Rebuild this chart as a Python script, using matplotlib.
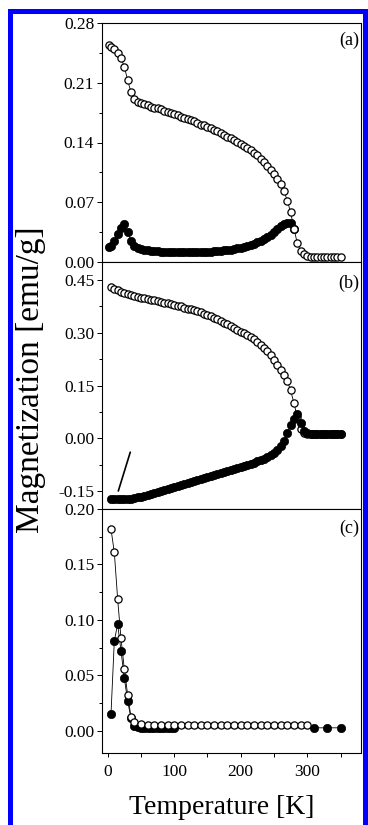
import matplotlib
matplotlib.use('Agg')
import matplotlib.pyplot as plt
from matplotlib.ticker import MultipleLocator, FormatStrFormatter
from matplotlib.patches import Rectangle

plt.rcParams['font.family'] = 'Liberation Serif'
plt.rcParams['axes.unicode_minus'] = False

# panel (a): open = FC, filled = ZFC
temp_a_open = [2, 5, 10, 15, 20, 25, 30, 35, 40, 45, 50, 55, 60, 65, 70, 75, 80, 85, 90, 95,
               100, 105, 110, 115, 120, 125, 130, 135, 140, 145, 150, 155, 160, 165, 170, 175,
               180, 185, 190, 195, 200, 205, 210, 215, 220, 225, 230, 235, 240, 245, 250, 255,
               260, 265, 270, 275, 280, 285, 290, 295, 300, 305, 310, 315, 320, 325, 330, 335,
               340, 345, 350]
mag_a_open = [0.254, 0.252, 0.249, 0.245, 0.239, 0.229, 0.213, 0.199, 0.191, 0.188,
              0.186, 0.185, 0.184, 0.182, 0.181, 0.180, 0.179, 0.177, 0.176, 0.174,
              0.173, 0.172, 0.170, 0.169, 0.168, 0.166, 0.165, 0.163, 0.161, 0.160,
              0.158, 0.157, 0.155, 0.153, 0.151, 0.149, 0.147, 0.145, 0.143, 0.141,
              0.138, 0.136, 0.133, 0.131, 0.128, 0.125, 0.121, 0.117, 0.113, 0.108,
              0.103, 0.097, 0.091, 0.083, 0.072, 0.058, 0.039, 0.022, 0.013, 0.009,
              0.007, 0.006, 0.006, 0.006, 0.006, 0.006, 0.006, 0.006, 0.006, 0.006, 0.006]
temp_a_full = [2, 5, 10, 15, 20, 25, 30, 35, 40, 45, 50, 55, 60, 65, 70, 75, 80, 85, 90, 95,
               100, 105, 110, 115, 120, 125, 130, 135, 140, 145, 150, 155, 160, 165, 170, 175,
               180, 185, 190, 195, 200, 205, 210, 215, 220, 225, 230, 235, 240, 245, 250, 255,
               260, 265, 270, 275, 280]
mag_a_full = [0.017, 0.019, 0.025, 0.033, 0.040, 0.045, 0.035, 0.025, 0.019, 0.016,
              0.015, 0.014, 0.0135, 0.013, 0.013, 0.0125, 0.012, 0.012, 0.012, 0.0118,
              0.0117, 0.0116, 0.0116, 0.0115, 0.0115, 0.0115, 0.0115, 0.0116, 0.0117, 0.0118,
              0.012, 0.0122, 0.0125, 0.0128, 0.0132, 0.0136, 0.014, 0.0146, 0.0152, 0.016,
              0.0168, 0.0177, 0.0188, 0.020, 0.0215, 0.0232, 0.025, 0.0272, 0.0296, 0.032,
              0.035, 0.0385, 0.042, 0.0445, 0.046, 0.0455, 0.039]

# panel (b)
temp_b = [5, 10, 15, 20, 25, 30, 35, 40, 45, 50, 55, 60, 65, 70, 75, 80, 85, 90, 95, 100,
          105, 110, 115, 120, 125, 130, 135, 140, 145, 150, 155, 160, 165, 170, 175, 180,
          185, 190, 195, 200, 205, 210, 215, 220, 225, 230, 235, 240, 245, 250, 255, 260,
          265, 270, 275, 280, 285, 290, 295, 300, 305, 310, 315, 320, 325, 330, 335, 340,
          345, 350]
mag_b_open = [0.430, 0.424, 0.420, 0.416, 0.413, 0.410, 0.407, 0.404, 0.401, 0.399,
              0.397, 0.395, 0.393, 0.391, 0.389, 0.387, 0.385, 0.383, 0.381, 0.379,
              0.376, 0.374, 0.371, 0.368, 0.366, 0.363, 0.360, 0.357, 0.353, 0.350,
              0.346, 0.342, 0.338, 0.333, 0.328, 0.323, 0.318, 0.313, 0.308, 0.303,
              0.298, 0.293, 0.287, 0.281, 0.273, 0.265, 0.257, 0.248, 0.237, 0.223,
              0.208, 0.194, 0.180, 0.163, 0.136, 0.100, 0.060, 0.028, 0.016, 0.013,
              0.012, 0.012, 0.012, 0.012, 0.012, 0.012, 0.012, 0.012, 0.012, 0.012]
mag_b_full = [-0.171, -0.172, -0.172, -0.172, -0.172, -0.172, -0.171, -0.170, -0.167, -0.165,
              -0.162, -0.159, -0.157, -0.154, -0.151, -0.148, -0.146, -0.143, -0.140, -0.138,
              -0.135, -0.132, -0.129, -0.127, -0.124, -0.121, -0.118, -0.115, -0.112, -0.109,
              -0.106, -0.104, -0.101, -0.098, -0.096, -0.093, -0.090, -0.087, -0.084, -0.081,
              -0.078, -0.075, -0.072, -0.069, -0.065, -0.061, -0.057, -0.052, -0.046, -0.040,
              -0.032, -0.022, -0.008, 0.015, 0.037, 0.056, 0.068, 0.045, 0.022, 0.014,
              0.012, 0.012, 0.012, 0.012, 0.012, 0.012, 0.012, 0.012, 0.012, 0.012]

# panel (c)
temp_c_open = [5, 10, 15, 20, 25, 30, 35, 40, 50, 60, 70, 80, 90, 100, 110, 120, 130, 140,
               150, 160, 170, 180, 190, 200, 210, 220, 230, 240, 250, 260, 270, 280, 290, 300]
mag_c_open = [0.182, 0.161, 0.119, 0.0835, 0.056, 0.0326, 0.0126, 0.008, 0.006,
              0.005, 0.005, 0.005, 0.005, 0.005, 0.005, 0.005, 0.005, 0.005, 0.005,
              0.005, 0.005, 0.005, 0.005, 0.005, 0.005, 0.005, 0.005, 0.005, 0.005,
              0.005, 0.005, 0.005, 0.005, 0.005]
temp_c_full = [5, 10, 15, 20, 25, 30, 35, 40, 45, 50, 55, 60, 65, 70, 75, 80, 85, 90, 95, 100,
               310, 330, 350]
mag_c_full = [0.0149, 0.081, 0.0963, 0.0724, 0.0478, 0.0269, 0.0117, 0.0045, 0.003,
              0.0027, 0.0027, 0.0027, 0.0027, 0.0027, 0.0027, 0.0027, 0.0027, 0.0027,
              0.0027, 0.0027, 0.0027, 0.0027, 0.0027]

panel_labels = ['(a)', '(b)', '(c)']

W, H = 368, 825
fig = plt.figure(figsize=(W / 100, H / 100), dpi=100)
left, right = 102, 360.5
boxes = [(23, 262), (262, 509), (509, 753)]
axes = [fig.add_axes([left / W, 1 - b / H, (right - left) / W, (b - t) / H]) for t, b in boxes]

open_style = dict(color='k', lw=0.6, marker='o', ms=5.2, mfc='white', mec='k', mew=0.9)
full_style = dict(color='k', lw=0.6, marker='o', ms=6.0, mfc='k', mec='k', mew=0.5)

ax_a, ax_b, ax_c = axes
ax_a.plot(temp_a_full, mag_a_full, zorder=2, **full_style)
ax_a.plot(temp_a_open, mag_a_open, zorder=3, **open_style)
ax_b.plot(temp_b, mag_b_open, zorder=2, **open_style)
ax_b.plot(temp_b, mag_b_full, zorder=3, **full_style)
ax_c.plot(temp_c_full, mag_c_full, zorder=2, **full_style)
ax_c.plot(temp_c_open, mag_c_open, zorder=3, **open_style)

# the small pointer line in (b)
ax_b.annotate('', xy=(16, -0.149), xytext=(34, -0.039),
              arrowprops=dict(arrowstyle='-', lw=1.2, color='k', shrinkA=0, shrinkB=0))

ylims = [(0, 0.28), (-0.2, 0.5), (-0.02, 0.2)]
ymajor = [0.07, 0.15, 0.05]
label_y = [0.929, 0.915, 0.922]
for i, ax in enumerate(axes):
    ax.set_xlim(-8.5, 380)
    ax.set_ylim(*ylims[i])
    ax.xaxis.set_major_locator(MultipleLocator(100))
    ax.xaxis.set_minor_locator(MultipleLocator(50))
    ax.yaxis.set_major_locator(MultipleLocator(ymajor[i]))
    ax.yaxis.set_minor_locator(MultipleLocator(ymajor[i] / 2))
    ax.yaxis.set_major_formatter(FormatStrFormatter('%.2f'))
    ax.tick_params(axis='y', which='major', direction='out', length=3.6, width=0.7,
                   labelsize=12.5, pad=2)
    ax.tick_params(axis='y', which='minor', direction='out', length=2.2, width=0.7)
    ax.tick_params(axis='x', which='both', direction='out', length=3.0, width=0.7,
                   labelsize=12.5, pad=5)
    if i < 2:
        ax.tick_params(axis='x', labelbottom=False)
    for s in ax.spines.values():
        s.set_linewidth(0.8)
    ax.text(0.995, label_y[i], panel_labels[i], transform=ax.transAxes,
            ha='right', va='center', fontsize=13)

fig.text(31 / W, 1 - 380 / H, 'Magnetization [emu/g]', rotation=90,
         ha='center', va='center', fontsize=24)
fig.text(222 / W, 1 - 808 / H, 'Temperature [K]', ha='center', va='center', fontsize=20)

# blue frame around the figure
fig.add_artist(Rectangle((9.5 / W, -0.1), 355 / W, 1.1 - 11.5 / H, transform=fig.transFigure,
                         fill=False, ec='#0000ff', lw=3.6, clip_on=False))

fig.savefig('out.png', dpi=100)
